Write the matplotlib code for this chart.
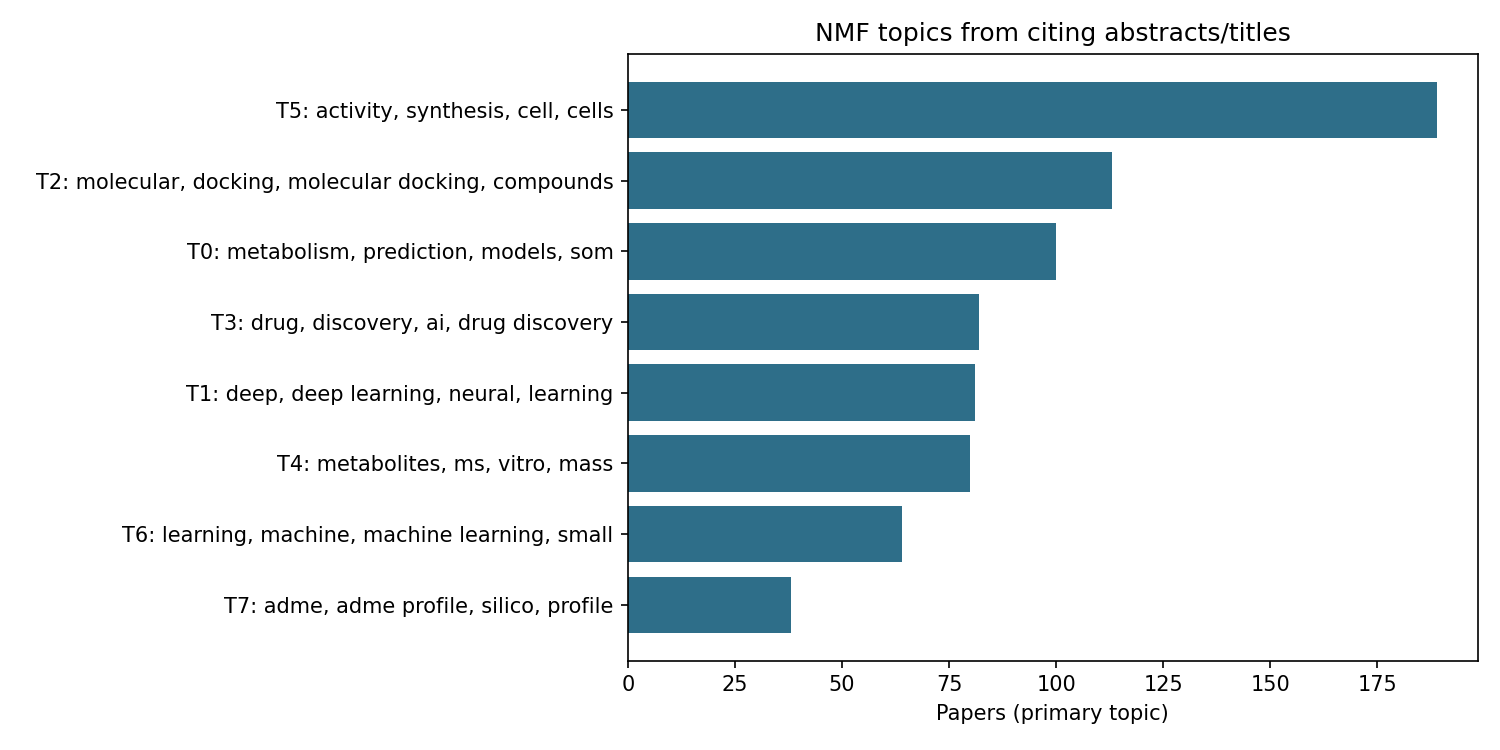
import matplotlib
matplotlib.use("Agg")
import matplotlib.pyplot as plt

topics = [
    "T5: activity, synthesis, cell, cells",
    "T2: molecular, docking, molecular docking, compounds",
    "T0: metabolism, prediction, models, som",
    "T3: drug, discovery, ai, drug discovery",
    "T1: deep, deep learning, neural, learning",
    "T4: metabolites, ms, vitro, mass",
    "T6: learning, machine, machine learning, small",
    "T7: adme, adme profile, silico, profile",
]
papers = [189, 113, 100, 82, 81, 80, 64, 38]

fig, ax = plt.subplots(figsize=(10, 5), dpi=150)
# reverse so the largest topic sits on top
ax.barh(topics[::-1], papers[::-1], color="#2e6e89")
ax.set_title("NMF topics from citing abstracts/titles")
ax.set_xlabel("Papers (primary topic)")
fig.subplots_adjust(left=0.4187, right=0.985, top=0.928, bottom=0.119)
fig.savefig("out.png", dpi=150)
plt.close(fig)
